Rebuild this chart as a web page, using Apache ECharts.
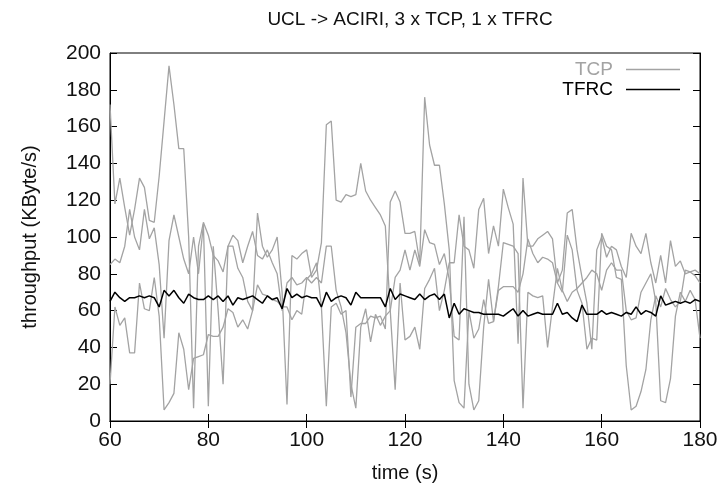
<!DOCTYPE html>
<html>
<head>
<meta charset="utf-8">
<script src="https://cdn.jsdelivr.net/npm/echarts@6/dist/echarts.min.js"></script>
<style>
html, body { margin: 0; padding: 0; background: #fff; }
#container { width: 718px; height: 497px; }
</style>
</head>
<body>
<div id="container"></div>
<script>
// time axis starts at 60 s, one sample per second up to 180 s
var startTime = 60;
var xTicks = [60, 80, 100, 120, 140, 160, 180];
var yTicks = [0, 20, 40, 60, 80, 100, 120, 140, 160, 180, 200];

// throughput in KByte/s
var tcpA = [172,118,132,116,101,115,132,127,109,108,133,163,193,172,148,148,100,7,95,108,101,
    90,87,81,95,95,83,78,65,60,113,95,89,93,100,70,9,90,88,91,93,
    78,82,97,161,163,120,119,123,122,123,140,125,120,116,112,106,60,17,75,44,
    46,51,39,72,77,83,60,71,86,86,112,95,93,83,115,121,91,106,95,126,
    116,107,42,132,95,95,99,101,103,99,75,82,113,115,93,78,64,39,93,100,
    89,95,93,84,78,102,95,91,102,86,75,90,75,98,84,87,80,81,79,75];
var tcpB = [85,88,86,95,115,100,93,115,99,105,85,45,98,112,100,88,80,100,80,107,8,
    95,60,20,95,101,98,86,95,103,90,88,93,86,80,60,75,78,74,75,78,
    75,78,75,95,95,71,62,48,20,7,51,61,43,58,52,57,60,78,82,93,
    82,93,84,104,97,96,85,91,77,46,44,111,20,6,11,51,77,54,71,73,
    73,73,70,80,99,91,86,89,88,86,75,70,101,93,71,64,39,45,44,102,
    95,93,78,77,30,6,8,16,28,55,68,62,72,66,62,65,82,81,82,80];
var tcpC = [20,62,52,56,37,37,75,61,60,78,57,6,10,15,48,39,17,34,35,36,47,
    46,46,51,61,59,51,55,50,60,74,69,68,66,65,62,62,55,60,58,77,
    80,86,62,8,62,64,58,60,13,51,53,53,57,56,57,50,119,125,119,102,
    102,103,86,176,150,139,139,118,93,22,10,7,60,45,50,66,53,54,73,97,
    96,95,91,7,70,68,67,68,40,62,83,71,65,70,72,75,78,82,80,71,
    82,86,82,82,60,55,56,70,75,80,65,11,10,23,57,70,65,71,66,45];
var tfrc = [65,70,67,65,67,67,68,67,68,67,62,71,68,71,67,64,69,67,66,66,68,
    66,68,65,68,63,67,66,67,68,66,64,68,66,67,61,72,67,69,67,68,
    67,67,62,70,65,67,68,67,63,70,67,67,67,67,67,62,72,66,69,68,
    67,66,69,66,68,69,66,69,56,64,58,61,60,59,59,58,58,58,58,57,
    59,61,57,60,57,58,59,58,58,58,64,58,59,56,54,63,58,58,58,60,
    58,59,58,57,59,58,62,58,60,59,57,68,63,64,65,64,65,64,66,65];

function pairs(values) {
    return values.map(function (v, i) { return [startTime + i, v]; });
}

var font = '"Liberation Sans", Arial, sans-serif';
var tcpColor = '#a3a3a3';

var myChart = echarts.init(document.getElementById('container'));
var option = {
    animation: false,
    backgroundColor: '#fff',
    textStyle: { fontFamily: font },
    title: {
        text: 'UCL -> ACIRI, 3 x TCP, 1 x TFRC',
        left: 405,
        top: 5,
        textAlign: 'center',
        textStyle: { fontFamily: font, fontSize: 19, fontWeight: 'normal', color: '#111' }
    },
    legend: {
        right: 33,
        top: 55,
        orient: 'vertical',
        align: 'right',
        icon: 'rect',
        itemWidth: 54,
        itemHeight: 1.6,
        itemGap: 1,
        textStyle: { fontFamily: font, fontSize: 19, padding: [0, 8, 0, 0] },
        data: [
            { name: 'TCP', textStyle: { color: tcpColor } },
            { name: 'TFRC', textStyle: { color: '#000' } }
        ]
    },
    grid: {
        left: 110, right: 18, top: 53, bottom: 76,
        outerBoundsMode: 'none',
        show: true, borderColor: '#000', borderWidth: 1
    },
    xAxis: [{
        type: 'value',
        min: xTicks[0], max: xTicks[xTicks.length - 1], interval: 20,
        name: 'time (s)', nameLocation: 'middle', nameGap: 42,
        nameTextStyle: { fontFamily: font, fontSize: 20, color: '#111' },
        axisLine: { lineStyle: { color: '#000' } },
        axisTick: { inside: true, length: 7, lineStyle: { color: '#000' } },
        axisLabel: { fontFamily: font, fontSize: 21, color: '#111', margin: 9 },
        splitLine: { show: false }
    }, {
        type: 'value', position: 'top',
        min: xTicks[0], max: xTicks[xTicks.length - 1], interval: 20,
        axisLine: { lineStyle: { color: '#000' } },
        axisTick: { inside: true, length: 7, lineStyle: { color: '#000' } },
        axisLabel: { show: false },
        splitLine: { show: false }
    }],
    yAxis: [{
        type: 'value',
        min: yTicks[0], max: yTicks[yTicks.length - 1], interval: 20,
        name: 'throughput (KByte/s)', nameLocation: 'middle', nameGap: 70, nameRotate: 90,
        nameTextStyle: { fontFamily: font, fontSize: 20, color: '#111' },
        axisLine: { show: true, lineStyle: { color: '#000' } },
        axisTick: { show: true, inside: true, length: 7, lineStyle: { color: '#000' } },
        axisLabel: { fontFamily: font, fontSize: 21, color: '#111', margin: 9 },
        splitLine: { show: false }
    }, {
        type: 'value', position: 'right',
        min: yTicks[0], max: yTicks[yTicks.length - 1], interval: 20,
        axisLine: { show: true, lineStyle: { color: '#000' } },
        axisTick: { show: true, inside: true, length: 7, lineStyle: { color: '#000' } },
        axisLabel: { show: false },
        splitLine: { show: false }
    }],
    series: [
        { name: 'TCP', type: 'line', showSymbol: false, data: pairs(tcpA), color: tcpColor,
          lineStyle: { width: 1.3, color: tcpColor } },
        { name: 'TCP', type: 'line', showSymbol: false, data: pairs(tcpB), color: tcpColor,
          lineStyle: { width: 1.3, color: tcpColor } },
        { name: 'TCP', type: 'line', showSymbol: false, data: pairs(tcpC), color: tcpColor,
          lineStyle: { width: 1.3, color: tcpColor } },
        { name: 'TFRC', type: 'line', showSymbol: false, data: pairs(tfrc), color: '#000', z: 5,
          lineStyle: { width: 1.5, color: '#000' } }
    ]
};
myChart.setOption(option);
</script>
</body>
</html>
